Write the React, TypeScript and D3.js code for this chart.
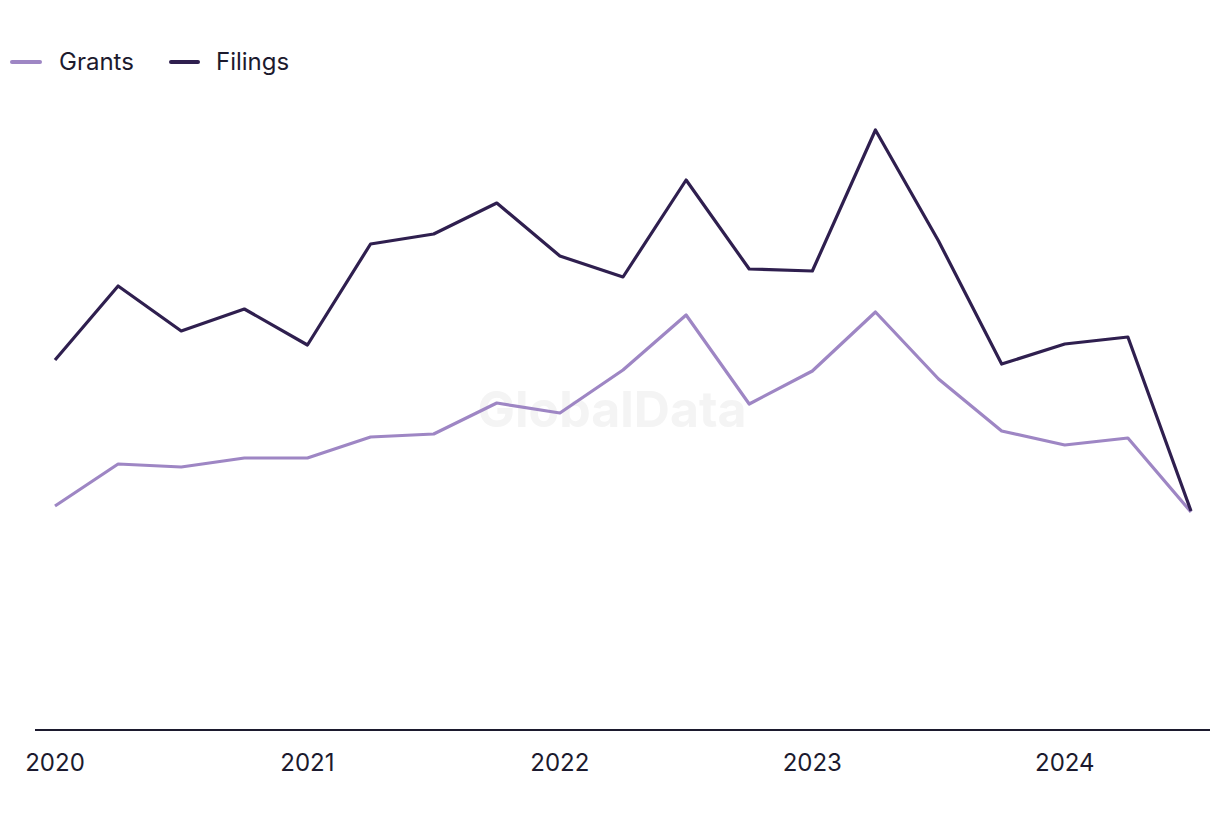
import React from "react";
import * as d3 from "d3";

const quarters = ["2020Q1","2020Q2","2020Q3","2020Q4","2021Q1","2021Q2","2021Q3","2021Q4","2022Q1","2022Q2","2022Q3","2022Q4","2023Q1","2023Q2","2023Q3","2023Q4","2024Q1","2024Q2","2024Q3"];
const filings = [37.1,44.5,40.0,42.2,38.6,48.7,49.7,52.8,47.5,45.4,55.1,46.2,46.0,60.1,49.0,36.7,38.7,39.4,22.0];
const grants = [22.5,26.7,26.4,27.3,27.3,29.4,29.7,32.8,31.8,36.1,41.6,32.7,36.0,41.9,35.2,30.0,28.6,29.3,21.9];
const yearTicks = ["2020","2021","2022","2023","2024"];

const W = 1220, H = 820;
const FONT = "Inter, 'Noto Sans', sans-serif";

export default function App() {
  const x = d3.scaleLinear().domain([0, quarters.length - 1]).range([55, 1191]);
  const y = d3.scaleLinear().domain([0, 60]).range([731, 131]);
  const line = d3.line<number>().x((_, i) => x(i)).y(d => y(d));
  return (
    <svg width={W} height={H} style={{ position: "absolute", left: 0, top: 0 }}>
      <rect width={W} height={H} fill="#fff" />
      <text x={612} y={427} textAnchor="middle" fontFamily={FONT} fontWeight={700} fontSize={50} fill="#f4f4f4">GlobalData</text>
      <line x1={35} x2={1210} y1={730} y2={730} stroke="#1c1a2e" strokeWidth={2} />
      {yearTicks.map((t, k) => (
        <text key={t} x={x(k * 4)} y={771} textAnchor="middle" fontFamily={FONT} fontSize={24} fill="#1c1a2e">{t}</text>
      ))}
      <path d={line(grants) || ""} fill="none" stroke="#9e86c4" strokeWidth={3.2} strokeLinejoin="round" />
      <path d={line(filings) || ""} fill="none" stroke="#2f1f4f" strokeWidth={3.2} strokeLinejoin="round" />
      <g fontFamily={FONT} fontSize={24} fill="#1c1a2e">
        <line x1={12} x2={40} y1={62} y2={62} stroke="#9e86c4" strokeWidth={4} strokeLinecap="round" />
        <text x={59} y={70}>Grants</text>
        <line x1={171} x2={198} y1={62} y2={62} stroke="#2f1f4f" strokeWidth={4} strokeLinecap="round" />
        <text x={216} y={70}>Filings</text>
      </g>
    </svg>
  );
}
